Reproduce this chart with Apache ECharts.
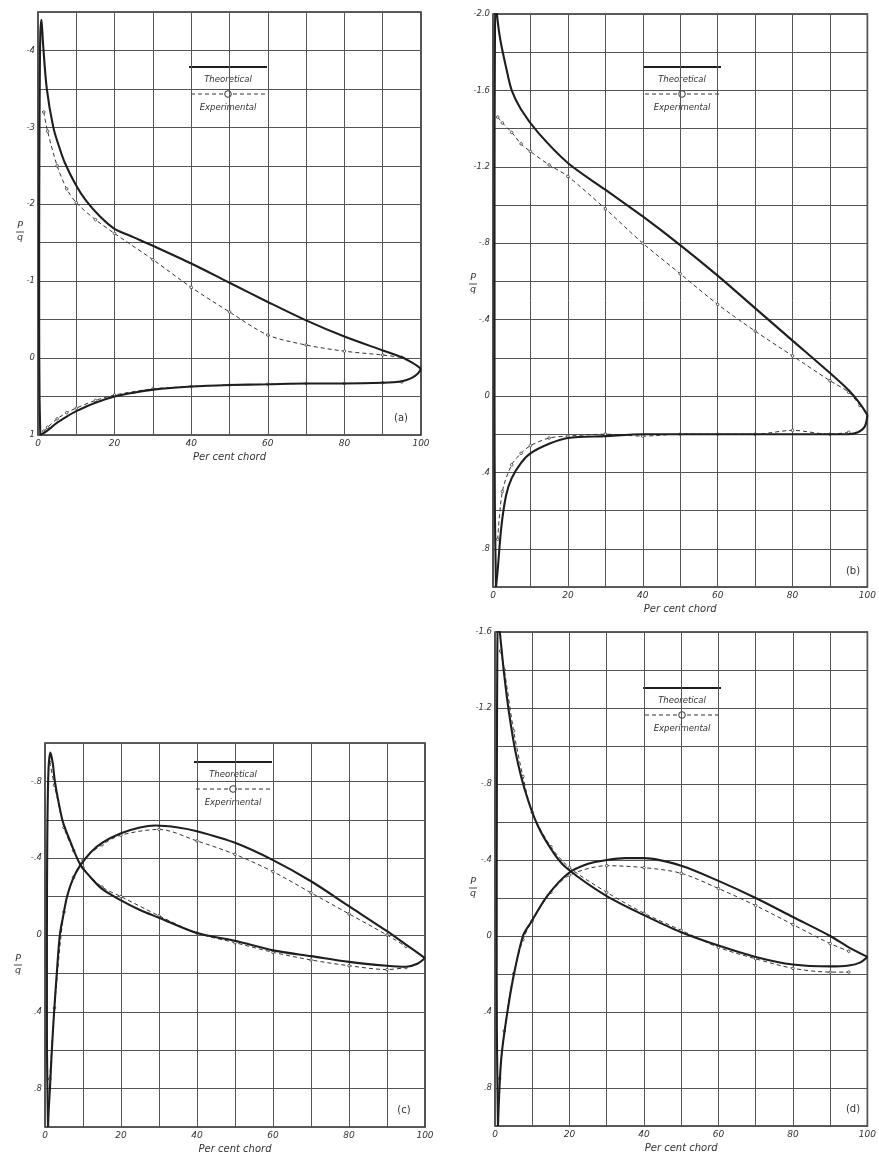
<!DOCTYPE html>
<html>
<head>
<meta charset="utf-8">
<script src="https://cdn.jsdelivr.net/npm/echarts@6/dist/echarts.min.js"></script>
<style>
  html, body { margin: 0; padding: 0; background: #fff; }
  #chart { width: 879px; height: 1163px; }
</style>
</head>
<body>
<div id="chart"></div>
<script>
// Pressure distributions P/q along the chord, theoretical vs experimental.
// Each curve is a list of [per cent chord, P/q] pairs, leading edge to trailing edge.

// ---- (a) ----
const aTheoUpper = [[0.6,1.0],[0.4,0.5],[0.3,-0.5],[0.3,-1.5],[0.35,-2.5],[0.45,-3.5],[0.6,-4.2],[0.9,-4.4],[1.3,-4.1],[2.3,-3.5],[4,-3.0],[5.5,-2.75],[7,-2.54],[10,-2.24],[12.5,-2.05],[16,-1.85],[20,-1.68],[25,-1.57],[30,-1.46],[40,-1.23],[50,-0.98],[60,-0.73],[70,-0.49],[80,-0.28],[90,-0.1],[95,-0.01],[98,0.07],[100,0.14]];
const aTheoLower = [[0.6,1.0],[1,0.99],[2.5,0.94],[5,0.84],[7.5,0.76],[10,0.69],[15,0.58],[20,0.5],[25,0.45],[30,0.41],[40,0.37],[50,0.35],[60,0.34],[70,0.33],[80,0.33],[90,0.32],[95,0.3],[97.5,0.26],[99.2,0.2],[100,0.14]];
const aExpUpper = [[1.5,-3.2],[2.5,-2.95],[5,-2.5],[7.5,-2.2],[10,-2.02],[15,-1.8],[20,-1.62],[30,-1.28],[40,-0.92],[50,-0.6],[60,-0.3],[70,-0.17],[80,-0.09],[90,-0.04],[95,-0.01]];
const aExpLower = [[1.5,0.95],[2.5,0.9],[5,0.79],[7.5,0.71],[10,0.65],[15,0.55],[20,0.48],[30,0.4],[40,0.37],[50,0.35],[60,0.34],[70,0.33],[80,0.33],[90,0.32],[95,0.31]];

// ---- (b) ----
const bTheoUpper = [[0.8,1.0],[0.5,0.6],[0.4,0],[0.4,-1.0],[0.5,-1.8],[0.7,-2.1],[1.2,-1.97],[2,-1.86],[3.5,-1.72],[5,-1.6],[7.5,-1.5],[12,-1.38],[20,-1.22],[30,-1.08],[40,-0.94],[50,-0.79],[60,-0.63],[70,-0.46],[80,-0.29],[90,-0.12],[95,-0.03],[98,0.04],[100,0.1]];
const bTheoLower = [[0.8,1.0],[1.3,0.9],[2.2,0.69],[3.5,0.52],[5,0.43],[7.5,0.35],[10,0.3],[15,0.25],[20,0.22],[30,0.21],[40,0.2],[60,0.2],[80,0.2],[90,0.2],[95,0.2],[97.5,0.19],[99.3,0.16],[100,0.1]];
const bExpUpper = [[1.25,-1.46],[2.5,-1.43],[5,-1.38],[7.5,-1.32],[10,-1.28],[15,-1.21],[20,-1.15],[30,-0.98],[40,-0.8],[50,-0.64],[60,-0.48],[70,-0.34],[80,-0.21],[90,-0.08],[95,-0.02],[98,0.05]];
const bExpLower = [[1.25,0.75],[2.5,0.5],[5,0.36],[7.5,0.3],[10,0.26],[15,0.22],[20,0.21],[30,0.2],[40,0.21],[50,0.2],[60,0.2],[70,0.2],[80,0.18],[90,0.2],[95,0.19]];

// ---- (c) ----
const cTheoUpper = [[0.8,1.0],[0.5,0.5],[0.5,0],[0.6,-0.5],[0.9,-0.85],[1.4,-0.95],[2.0,-0.9],[2.6,-0.8],[3.5,-0.7],[4.7,-0.59],[6.6,-0.49],[9.2,-0.37],[12,-0.3],[15,-0.24],[20,-0.18],[25,-0.13],[30,-0.09],[40,-0.01],[50,0.03],[60,0.08],[70,0.11],[80,0.14],[90,0.16],[95,0.165],[98,0.15],[100,0.12]];
const cTheoLower = [[0.8,1.0],[1.0,0.9],[1.3,0.8],[1.8,0.6],[2.4,0.4],[3.1,0.2],[3.9,0.0],[4.8,-0.1],[5.8,-0.2],[7.3,-0.29],[9.2,-0.36],[12,-0.43],[15,-0.48],[20,-0.53],[25,-0.56],[29,-0.57],[35,-0.56],[40,-0.54],[50,-0.48],[60,-0.39],[70,-0.28],[80,-0.15],[90,-0.02],[95,0.05],[100,0.12]];
const cExpUpper = [[1.25,-0.9],[2.5,-0.78],[5,-0.56],[7.5,-0.44],[10,-0.35],[15,-0.25],[20,-0.2],[30,-0.1],[40,-0.01],[50,0.04],[60,0.09],[70,0.13],[80,0.16],[90,0.18],[95,0.17]];
const cExpLower = [[1.25,0.75],[2.5,0.38],[5,-0.12],[7.5,-0.3],[10,-0.39],[15,-0.47],[20,-0.52],[30,-0.55],[40,-0.49],[50,-0.42],[60,-0.33],[70,-0.22],[80,-0.11],[90,0.0],[95,0.06]];

// ---- (d) ----
const dTheoUpper = [[0.8,1.0],[0.5,0.5],[0.45,0],[0.5,-0.8],[0.6,-1.4],[0.8,-1.7],[1.3,-1.6],[2.5,-1.37],[3.8,-1.17],[5.5,-0.97],[8,-0.77],[11.5,-0.58],[16,-0.43],[19.7,-0.35],[30,-0.21],[40,-0.11],[50,-0.02],[60,0.05],[70,0.11],[80,0.15],[90,0.16],[95,0.155],[98,0.14],[100,0.11]];
const dTheoLower = [[0.8,1.0],[1.2,0.8],[1.75,0.63],[3.1,0.43],[4.8,0.23],[7.5,0.0],[9.6,-0.07],[14,-0.21],[19.7,-0.33],[25,-0.38],[30,-0.4],[35,-0.41],[40,-0.41],[50,-0.37],[60,-0.29],[70,-0.2],[80,-0.1],[90,0.0],[95,0.06],[100,0.11]];
const dExpUpper = [[1.5,-1.5],[2.5,-1.4],[5,-1.08],[7.5,-0.84],[10,-0.65],[15,-0.47],[20,-0.36],[30,-0.23],[40,-0.12],[50,-0.03],[60,0.06],[70,0.12],[80,0.17],[90,0.19],[95,0.19]];
const dExpLower = [[1.25,0.75],[2.5,0.5],[5,0.2],[7.5,0.02],[10,-0.08],[15,-0.23],[20,-0.32],[30,-0.37],[40,-0.36],[50,-0.33],[60,-0.25],[70,-0.16],[80,-0.06],[90,0.04],[95,0.08]];

// ---- tick labels ----
const xTickValues = [0, 20, 40, 60, 80, 100];
const aYTicks = [-4, -3, -2, -1, 0, 1];
const aYLabels = ['-4', '-3', '-2', '-1', '0', '1'];
const bYTicks = [-2.0, -1.6, -1.2, -0.8, -0.4, 0, 0.4, 0.8];
const bYLabels = ['-2.0', '-1.6', '-1.2', '-.8', '-.4', '0', '.4', '.8'];
const cYTicks = [-0.8, -0.4, 0, 0.4, 0.8];
const cYLabels = ['-.8', '-.4', '0', '.4', '.8'];
const dYTicks = [-1.6, -1.2, -0.8, -0.4, 0, 0.4, 0.8];
const dYLabels = ['-1.6', '-1.2', '-.8', '-.4', '0', '.4', '.8'];

const panelTags = ['(a)', '(b)', '(c)', '(d)'];
const xName = 'Per cent chord';
const legendTexts = ['Theoretical', 'Experimental'];

// ---- layout of the four panels ----
const panels = [
  { grid: { left: 38,  top: 12,  width: 383, height: 423 }, yMin: -4.5, yMax: 1.0, yStep: 0.5,
    ticks: aYTicks, labels: aYLabels, theo: [aTheoUpper, aTheoLower], exp: [aExpUpper, aExpLower],
    legend: [228, 67], tag: [401, 418], pq: [20, 232] },
  { grid: { left: 493, top: 14,  width: 380, height: 573 }, yMin: -2.0, yMax: 1.0, yStep: 0.2,
    ticks: bYTicks, labels: bYLabels, theo: [bTheoUpper, bTheoLower], exp: [bExpUpper, bExpLower],
    legend: [682, 67], tag: [853, 571], pq: [473, 284] },
  { grid: { left: 45,  top: 743, width: 380, height: 384 }, yMin: -1.0, yMax: 1.0, yStep: 0.2,
    ticks: cYTicks, labels: cYLabels, theo: [cTheoUpper, cTheoLower], exp: [cExpUpper, cExpLower],
    legend: [233, 762], tag: [404, 1110], pq: [18, 965] },
  { grid: { left: 495, top: 632, width: 378, height: 494 }, yMin: -1.6, yMax: 1.0, yStep: 0.2,
    ticks: dYTicks, labels: dYLabels, theo: [dTheoUpper, dTheoLower], exp: [dExpUpper, dExpLower],
    legend: [682, 688], tag: [853, 1109], pq: [473, 888] }
];

const INK = '#1e1e1e';
const GRIDC = '#555';
const FONT = 'DejaVu Sans';

const grids = [], xAxes = [], yAxes = [], series = [], graphics = [];

panels.forEach((p, i) => {
  grids.push(Object.assign({
    show: true, borderColor: '#2a2a2a', borderWidth: 1.6, backgroundColor: '#fff'
  }, p.grid));

  xAxes.push({
    type: 'value', gridIndex: i, min: 0, max: 100, interval: 10,
    axisLine: { show: false }, axisTick: { show: false },
    splitLine: { show: true, lineStyle: { color: GRIDC, width: 1 } },
    axisLabel: {
      margin: 4, fontSize: 9, fontStyle: 'italic', fontFamily: FONT, color: '#333',
      showMinLabel: true, showMaxLabel: true,
      formatter: v => xTickValues.some(t => Math.abs(t - v) < 1e-6) ? String(Math.round(v)) : ''
    },
    name: xName, nameLocation: 'middle', nameGap: 17,
    nameTextStyle: { fontSize: 10, fontStyle: 'italic', fontFamily: FONT, color: '#333' }
  });

  yAxes.push({
    type: 'value', gridIndex: i, inverse: true,
    min: p.yMin, max: p.yMax, interval: p.yStep,
    axisLine: { show: false }, axisTick: { show: false },
    splitLine: { show: true, lineStyle: { color: GRIDC, width: 1 } },
    axisLabel: {
      margin: 3, fontSize: 8.5, fontStyle: 'italic', fontFamily: FONT, color: '#333',
      showMinLabel: true, showMaxLabel: true,
      formatter: v => {
        const k = p.ticks.findIndex(t => Math.abs(t - v) < 1e-6);
        return k >= 0 ? p.labels[k] : '';
      }
    }
  });

  p.theo.forEach(d => series.push({
    type: 'line', xAxisIndex: i, yAxisIndex: i, data: d,
    smooth: 0.3, symbol: 'none', clip: true,
    lineStyle: { color: INK, width: 2.1 }, z: 4
  }));

  p.exp.forEach(d => series.push({
    type: 'line', xAxisIndex: i, yAxisIndex: i, data: d,
    smooth: 0.3, clip: true, symbol: 'circle', symbolSize: 2.6, showAllSymbol: true,
    itemStyle: { color: '#fff', borderColor: '#333', borderWidth: 0.8 },
    lineStyle: { color: '#333', width: 1, type: [4, 3] }, z: 3
  }));

  // legend block: solid line / Theoretical / dashed line with circle / Experimental
  const [lx, ly] = p.legend;
  graphics.push({
    type: 'group', x: lx, y: ly, z: 50,
    children: [
      { type: 'rect', shape: { x: -41, y: -1, width: 82, height: 49 }, style: { fill: '#fff' } },
      { type: 'line', shape: { x1: -39, y1: 0, x2: 39, y2: 0 }, style: { stroke: INK, lineWidth: 2.2 } },
      { type: 'text', x: 0, y: 13, style: { text: legendTexts[0], fontSize: 8.5, fontStyle: 'italic',
        fontFamily: FONT, fill: '#333', align: 'center', verticalAlign: 'middle' } },
      { type: 'line', shape: { x1: -37, y1: 27, x2: 37, y2: 27 }, style: { stroke: '#333', lineWidth: 1, lineDash: [4, 3] } },
      { type: 'circle', shape: { cx: 0, cy: 27, r: 3.3 }, style: { fill: '#fff', stroke: '#333', lineWidth: 1 } },
      { type: 'text', x: 0, y: 41, style: { text: legendTexts[1], fontSize: 8.5, fontStyle: 'italic',
        fontFamily: FONT, fill: '#333', align: 'center', verticalAlign: 'middle' } }
    ]
  });

  // panel tag in the lower right cell
  graphics.push({
    type: 'text', x: p.tag[0], y: p.tag[1], z: 50,
    style: { text: panelTags[i], fontSize: 10, fontFamily: FONT, fill: '#333',
      align: 'center', verticalAlign: 'middle' }
  });

  // y axis title P/q as a stacked fraction
  const [qx, qy] = p.pq;
  graphics.push({
    type: 'group', x: qx, y: qy, z: 50,
    children: [
      { type: 'text', x: 0, y: -6, style: { text: 'P', fontSize: 9.5, fontStyle: 'italic', fontFamily: FONT,
        fill: '#333', align: 'center', verticalAlign: 'middle' } },
      { type: 'line', shape: { x1: -4, y1: 0, x2: 4, y2: 0 }, style: { stroke: '#333', lineWidth: 0.9 } },
      { type: 'text', x: 0, y: 6, style: { text: 'q', fontSize: 9.5, fontStyle: 'italic', fontFamily: FONT,
        fill: '#333', align: 'center', verticalAlign: 'middle' } }
    ]
  });
});

const chart = echarts.init(document.getElementById('chart'), null, { renderer: 'canvas' });
chart.setOption({
  backgroundColor: '#fff',
  animation: false,
  grid: grids,
  xAxis: xAxes,
  yAxis: yAxes,
  series: series,
  graphic: graphics
});
</script>
</body>
</html>
